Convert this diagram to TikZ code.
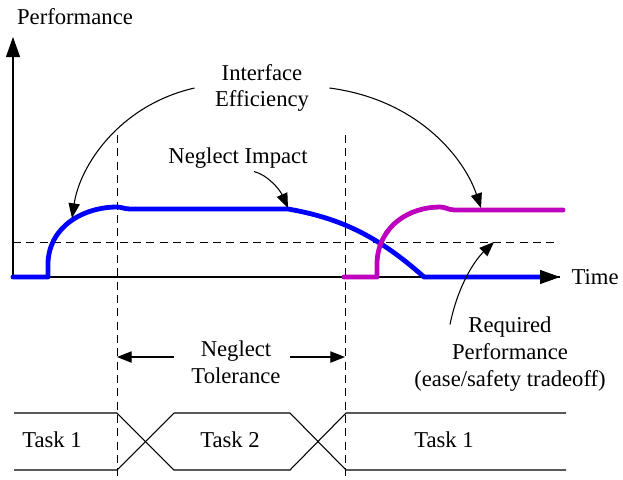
\documentclass[tikz,border=0pt]{standalone}
\usepackage{fontspec}
\setmainfont{Liberation Serif}
\usetikzlibrary{arrows.meta}
\definecolor{perfblue}{RGB}{0,0,255}
\definecolor{perfmag}{RGB}{190,0,190}

\begin{document}
\begin{tikzpicture}[x=0.75pt,y=-0.75pt,line width=0.8pt,
  tip/.style={-{Triangle[length=11pt,width=8.5pt]}},
  axtip/.style={-{Triangle[length=15pt,width=10.5pt]}},
  guide/.style={dash pattern=on 6pt off 4pt,line width=0.6pt},
  perf/.style={line width=3.6pt,line cap=round,line join=round},
  lbl/.style={font=\fontsize{17}{20}\selectfont,align=center,inner sep=0pt}]
\useasboundingbox (0,0) rectangle (623,479);

% axes
\coordinate (O) at (13,277);
\coordinate (ytop) at (13,37);
\coordinate (xend) at (560,277);
\draw[axtip] (O) -- (ytop);
\draw (O) -- (xend);
\node[lbl] (perfl) at (75,17) {Performance};
\node[lbl,anchor=west] (time) at (571,277) {Time};

% guide lines
\coordinate (d1) at (117,135);
\coordinate (d2) at (345,135);
\coordinate (req) at (13,242);
\draw[guide] (d1) -- (117,479);
\draw[guide] (d2) -- (345,479);
\draw[guide] (req) -- (557,242);

% performance curves
\draw[perf,perfblue] (O) -- (48,277) -- (48,262)
  .. controls (50,225) and (85,207) .. (117,207)
  .. controls (122,207) and (124,209) .. (130,209) -- (288,209)
  .. controls (340,218) and (378,236) .. (424,277) -- (545,277);
\draw[perf,perfmag] (344,277) -- (377,277) -- (377,262)
  .. controls (379,225) and (410,207) .. (440,207)
  .. controls (446,207) and (448,210) .. (455,210) -- (563,210);
\draw[axtip] (540,277) -- (xend);

% labels and pointers
\node[lbl] (ie) at (262,88) {Interface\\Efficiency};
\node[lbl] (ni) at (238,158) {Neglect Impact};
\node[lbl] (rp) at (510,354) {Required\\Performance\\(ease/safety tradeoff)};
\coordinate (ieA) at (72,218);
\coordinate (ieB) at (481,208);
\coordinate (niA) at (288,208);
\coordinate (rpA) at (494,242);
\draw[tip] ([xshift=-15]ie.west) .. controls (120,105) and (80,165) .. (ieA);
\draw[tip] ([xshift=15]ie.east) .. controls (420,100) and (465,160) .. (ieB);
\draw[tip] ([xshift=12,yshift=-2]ni.south) .. controls (268,175) and (280,190) .. (niA);
\draw[tip] ([xshift=-45,yshift=-6]rp.north) .. controls (458,285) and (475,260) .. (rpA);

% neglect tolerance
\node[lbl] (nt) at (236,362) {Neglect\\Tolerance};
\coordinate (ntL) at (174,357);
\coordinate (ntR) at (290,357);
\draw[tip] (ntL) -- (d1 |- ntL);
\draw[tip] (ntR) -- (d2 |- ntR);

% task bands
\draw (14,413) -- (117,413) -- (174,470) -- (290,470) -- (346,413) -- (566,413);
\draw (14,470) -- (117,470) -- (174,413) -- (290,413) -- (346,470) -- (566,470);
\node[lbl] (t1) at (52,440) {Task 1};
\node[lbl] (t2) at (230,440) {Task 2};
\node[lbl] (t3) at (444,440) {Task 1};

\end{tikzpicture}
\end{document}
